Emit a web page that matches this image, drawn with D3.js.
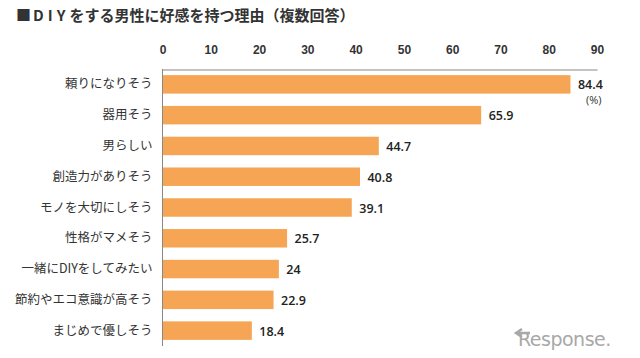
<!DOCTYPE html>
<html><head><meta charset="utf-8">
<script src="https://cdn.jsdelivr.net/npm/d3@7"></script>
<style>body{margin:0;background:#fff}</style>
</head><body><svg id="c" width="640" height="358"></svg>
<script>
const categories = ["頼りになりそう","器用そう","男らしい","創造力がありそう","モノを大切にしそう","性格がマメそう","一緒にDIYをしてみたい","節約やエコ意識が高そう","まじめで優しそう"];
const values = [84.4,65.9,44.7,40.8,39.1,25.7,24,22.9,18.4];
const valueLabels = ["84.4","65.9","44.7","40.8","39.1","25.7","24","22.9","18.4"];
const tickValues = [0,10,20,30,40,50,60,70,80,90];
const titlePrefix = "■";
const titleDIY = "DIY";
const titleRest = "をする男性に好感を持つ理由（複数回答）";

const svg = d3.select("#c");
const jp = "'Noto Sans CJK JP', 'Noto Sans', sans-serif";
const x = d3.scaleLinear().domain([0,90]).range([162.5,597]);
const y = d3.scaleBand().domain(categories).range([69,346]).paddingInner(0.4).paddingOuter(0.2);

const t = svg.append("text").attr("x",16).attr("y",21).attr("font-family",jp).attr("font-size",15).attr("font-weight","bold").attr("fill","#333");
t.append("tspan").text(titlePrefix);
t.append("tspan").attr("letter-spacing",4).attr("dx",2).text(titleDIY);
t.append("tspan").text(titleRest);

// top axis
const ax = svg.append("g").attr("transform","translate(0,69.5)")
  .call(d3.axisTop(x).tickValues(tickValues).tickSize(0).tickPadding(16));
ax.select(".domain").attr("stroke","#888").attr("stroke-width",1.2);
ax.selectAll("text").attr("font-family","'Liberation Sans Narrow', 'Arial Narrow', sans-serif").attr("font-size",12).attr("font-weight","bold").attr("fill","#333");

// left axis
const ay = svg.append("g").attr("transform","translate(162.5,0)")
  .call(d3.axisLeft(y).tickSize(0).tickPadding(10));
ay.select(".domain").attr("stroke","#888").attr("stroke-width",1).attr("d","M0,69V346");
ay.selectAll("text").attr("font-family",jp).attr("font-size",12.5).attr("fill","#333");

svg.append("g").selectAll("rect").data(values).join("rect")
  .attr("x",x(0)+0.5).attr("y",(d,i)=>y(categories[i]))
  .attr("width",d=>x(d)-x(0)).attr("height",y.bandwidth())
  .attr("fill","#F5A553");

svg.append("g").selectAll("text").data(values).join("text")
  .attr("x",d=>x(d)+8).attr("y",(d,i)=>y(categories[i])+y.bandwidth()/2+5)
  .attr("font-family","'Open Sans', sans-serif").attr("font-size",12.5).attr("font-weight",600).attr("fill","#222")
  .text((d,i)=>valueLabels[i]);

svg.append("text").attr("x",586).attr("y",104).attr("font-family","'Open Sans', sans-serif").attr("font-size",11).attr("fill","#333").text("(%)");

// watermark
const wm = svg.append("g").attr("fill","#a8a8a8");
wm.append("path").attr("d","M522,329 L516,333 L522,337 M516,333 L530,333").attr("stroke","#a8a8a8").attr("stroke-width",2.5).attr("fill","none");
wm.append("text").attr("x",518).attr("y",346).attr("font-family","'DejaVu Sans', sans-serif").attr("font-size",19).attr("letter-spacing",-0.5).text("Response.");
</script></body></html>
